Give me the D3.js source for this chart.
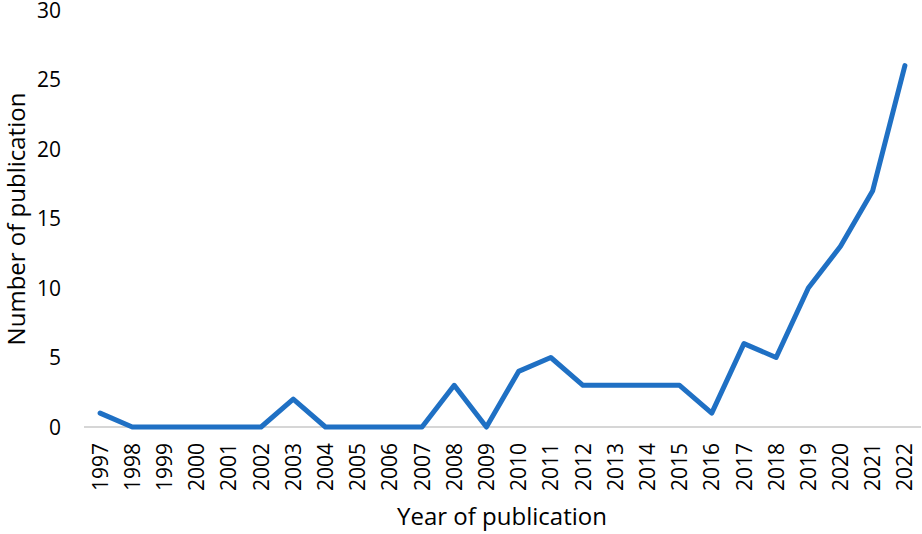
<!DOCTYPE html>
<html>
<head>
<meta charset="utf-8">
<script src="https://cdn.jsdelivr.net/npm/d3@7"></script>
<style>
  body { margin: 0; background: #fff; }
  text { font-family: "Open Sans", "Noto Sans", sans-serif; fill: #000; }
</style>
</head>
<body>
<script>
// publication counts per year
var years = ["1997","1998","1999","2000","2001","2002","2003","2004","2005","2006","2007","2008","2009",
             "2010","2011","2012","2013","2014","2015","2016","2017","2018","2019","2020","2021","2022"];
var counts = [1,0,0,0,0,0,2,0,0,0,0,3,0,4,5,3,3,3,3,1,6,5,10,13,17,26];
var yTicks = [0,5,10,15,20,25,30];

var w = 922, h = 534;
// plot edges (not "top", that one is taken by window.top)
var plotLeft = 84, plotRight = 921, plotTop = 10, plotBottom = 427;

var svg = d3.select("body").append("svg")
    .attr("width", w)
    .attr("height", h);

var x = d3.scaleBand()
    .domain(years)
    .range([plotLeft, plotRight]);

var y = d3.scaleLinear()
    .domain([0, 30])
    .range([plotBottom, plotTop]);

// baseline
svg.append("line")
    .attr("x1", plotLeft).attr("x2", plotRight)
    .attr("y1", y(0)).attr("y2", y(0))
    .style("stroke", "#c8c8c8")
    .style("stroke-width", 1.5);

// y tick labels
svg.selectAll(".ytick")
    .data(yTicks)
    .enter()
    .append("text")
    .attr("class", "ytick")
    .attr("text-anchor", "end")
    .attr("x", 61)
    .attr("y", function(d) { return y(d); })
    .attr("dy", "0.36em")
    .style("font-size", "21px")
    .text(function(d) { return d; });

// x tick labels, rotated
svg.selectAll(".xtick")
    .data(years)
    .enter()
    .append("text")
    .attr("class", "xtick")
    .attr("text-anchor", "end")
    .attr("transform", function(d) {
        return "translate(" + (x(d) + x.bandwidth() / 2) + "," + (y(0) + 16) + ") rotate(-90)";
    })
    .attr("dy", "0.36em")
    .style("font-size", "21px")
    .text(function(d) { return d; });

// line
var line = d3.line()
    .x(function(d, i) { return x(years[i]) + x.bandwidth() / 2; })
    .y(function(d) { return y(d); });

svg.append("path")
    .datum(counts)
    .attr("d", line)
    .style("fill", "none")
    .style("stroke", "#1f70c4")
    .style("stroke-width", 5)
    .style("stroke-linejoin", "round")
    .style("stroke-linecap", "round");

// axis titles
svg.append("text")
    .attr("text-anchor", "middle")
    .attr("transform", "translate(16,219) rotate(-90)")
    .attr("dy", "0.36em")
    .style("font-size", "24px")
    .text("Number of publication");

svg.append("text")
    .attr("text-anchor", "middle")
    .attr("x", 502)
    .attr("y", 516)
    .attr("dy", "0.36em")
    .style("font-size", "24px")
    .text("Year of publication");
</script>
</body>
</html>
